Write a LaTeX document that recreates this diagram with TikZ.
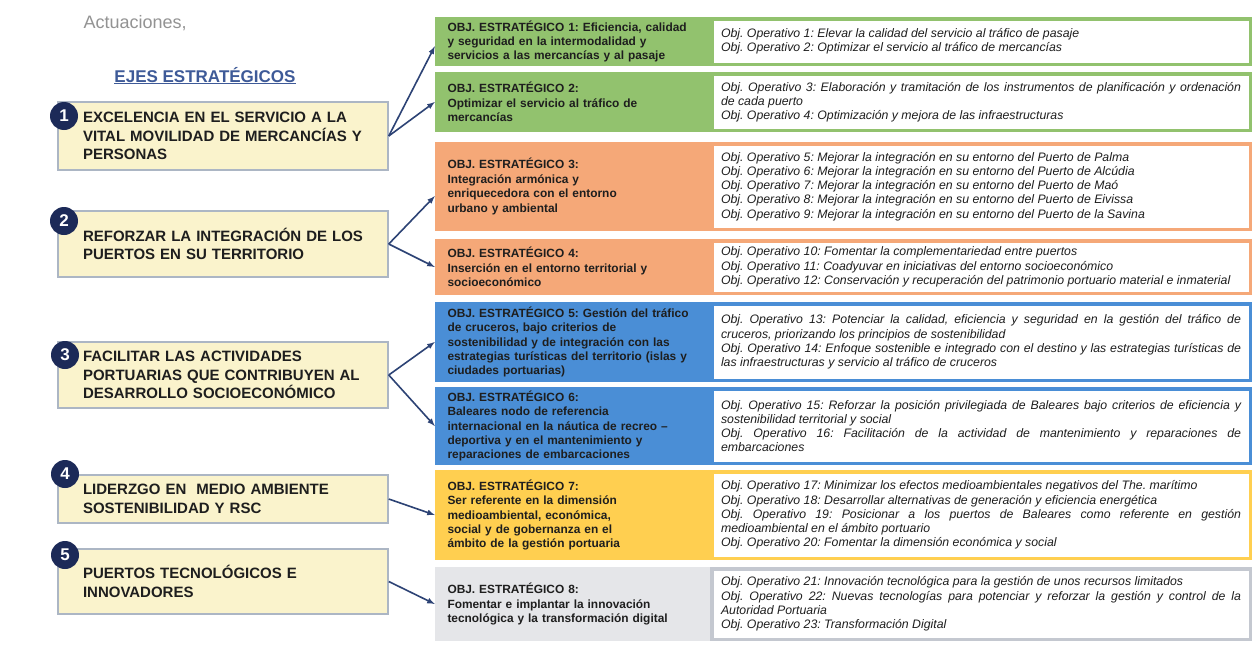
\documentclass[tikz,border=0pt]{standalone}
\usepackage{fontspec}
\setmainfont{Liberation Sans}
\usepackage{tikz}
\usetikzlibrary{arrows}
\definecolor{ejefill}{RGB}{250,243,204}
\definecolor{ejeline}{RGB}{172,182,196}
\definecolor{navy}{RGB}{28,42,88}
\definecolor{flecha}{RGB}{45,67,117}
\definecolor{verde}{RGB}{146,194,110}
\definecolor{naranja}{RGB}{245,168,120}
\definecolor{azul}{RGB}{74,142,214}
\definecolor{amarillo}{RGB}{255,207,80}
\definecolor{gris}{RGB}{229,230,233}
\definecolor{grisborde}{RGB}{196,200,208}
\definecolor{titulo}{RGB}{62,90,152}
\definecolor{texto}{RGB}{30,30,30}
\frenchspacing
\hyphenpenalty=10000

\begin{document}
\begin{tikzpicture}[x=1pt,y=-1pt]
%\draw[help lines] (0,0) grid (1257,645);
\tikzstyle{eje}=[rectangle,draw=ejeline,fill=ejefill,line width=1.5pt,minimum width=330pt,text width=280pt,inner xsep=25pt,align=left,text=texto,font=\fontsize{15}{18.5}\selectfont\bfseries]
\tikzstyle{num}=[circle,fill=navy,minimum size=28pt,inner sep=0pt,text=white,font=\fontsize{17}{17}\selectfont\bfseries]
\tikzstyle{obj}=[rectangle,minimum width=275pt,text width=250pt,inner xsep=12.5pt,align=left,text=texto,font=\fontsize{11.9}{14.4}\selectfont\bfseries]
\tikzstyle{op}=[rectangle,fill=white,line width=3.5pt,minimum width=538.5pt,text width=520pt,inner xsep=9.25pt,align=justify,text=texto,font=\fontsize{12.3}{14.2}\selectfont\itshape]
\tikzstyle{arr}=[->,>=latex,draw=flecha,line width=1.6pt]

\path[use as bounding box,fill=white] (0,0) rectangle (1257,645);

\node[anchor=base west,text=gray!85,font=\fontsize{18}{18}\selectfont] (act) at (80,28) {Actuaciones,};
\node[anchor=base,text=titulo,font=\fontsize{17}{17}\selectfont\bfseries] (ejes) at (205,82) {\underline{EJES ESTRATÉGICOS}};

\node[eje,minimum height=68pt] (e1) at (223,136) {EXCELENCIA EN EL SERVICIO A LA\\VITAL MOVILIDAD DE MERCANCÍAS Y\\PERSONAS};
\node[eje,minimum height=66pt] (e2) at (223,244) {REFORZAR LA INTEGRACIÓN DE LOS\\PUERTOS EN SU TERRITORIO};
\node[eje,minimum height=66pt] (e3) at (223,375) {FACILITAR LAS ACTIVIDADES\\PORTUARIAS QUE CONTRIBUYEN AL\\DESARROLLO SOCIOECONÓMICO};
\node[eje,minimum height=48pt] (e4) at (223,499) {LIDERZGO EN\ \ MEDIO AMBIENTE\\SOSTENIBILIDAD Y RSC};
\node[eje,minimum height=65pt] (e5) at (223,581.5) {PUERTOS TECNOLÓGICOS E\\INNOVADORES};

\node[num] (n1) at (64,116) {1};
\node[num] (n2) at (64,221) {2};
\node[num] (n3) at (65,355) {3};
\node[num] (n4) at (65,474) {4};
\node[num] (n5) at (65,555) {5};

\node[obj,fill=verde,minimum height=49pt] (o1) at (572.5,41.5) {OBJ. ESTRATÉGICO 1: Eficiencia, calidad\\y seguridad en la intermodalidad y\\servicios a las mercancías y al pasaje};
\node[obj,fill=verde,minimum height=60pt] (o2) at (572.5,102) {OBJ. ESTRATÉGICO 2:\\Optimizar el servicio al tráfico de\\mercancías};
\node[obj,fill=naranja,minimum height=89pt] (o3) at (572.5,186.5) {OBJ. ESTRATÉGICO 3:\\Integración armónica y\\enriquecedora con el entorno\\urbano y ambiental};
\node[obj,fill=naranja,minimum height=56pt] (o4) at (572.5,267) {OBJ. ESTRATÉGICO 4:\\Inserción en el entorno territorial y\\socioeconómico};
\node[obj,fill=azul,minimum height=80pt] (o5) at (572.5,342) {OBJ. ESTRATÉGICO 5: Gestión del tráfico\\de cruceros, bajo criterios de\\sostenibilidad y de integración con las\\estrategias turísticas del territorio (islas y\\ciudades portuarias)};
\node[obj,fill=azul,minimum height=78pt] (o6) at (572.5,426) {OBJ. ESTRATÉGICO 6:\\Baleares nodo de referencia\\internacional en la náutica de recreo --\\deportiva y en el mantenimiento y\\reparaciones de embarcaciones};
\node[obj,fill=amarillo,minimum height=90pt] (o7) at (572.5,515) {OBJ. ESTRATÉGICO 7:\\Ser referente en la dimensión\\medioambiental, económica,\\social y de gobernanza en el\\ámbito de la gestión portuaria};
\node[obj,fill=gris,minimum height=74pt] (o8) at (572.5,604) {OBJ. ESTRATÉGICO 8:\\Fomentar e implantar la innovación\\tecnológica y la transformación digital};

\node[op,draw=verde,minimum height=45.5pt] (p1) at (981,41.5) {Obj. Operativo 1: Elevar la calidad del servicio al tráfico de pasaje\par Obj. Operativo 2: Optimizar el servicio al tráfico de mercancías};
\node[op,draw=verde,minimum height=56.5pt] (p2) at (981,102) {Obj. Operativo 3: Elaboración y tramitación de los instrumentos de planificación y ordenación\linebreak de cada puerto\par Obj. Operativo 4: Optimización y mejora de las infraestructuras};
\node[op,draw=naranja,minimum height=85.5pt] (p3) at (981,186.5) {Obj. Operativo 5: Mejorar la integración en su entorno del Puerto de Palma\par Obj. Operativo 6: Mejorar la integración en su entorno del Puerto de Alcúdia\par Obj. Operativo 7: Mejorar la integración en su entorno del Puerto de Maó\par Obj. Operativo 8: Mejorar la integración en su entorno del Puerto de Eivissa\par Obj. Operativo 9: Mejorar la integración en su entorno del Puerto de la Savina};
\node[op,draw=naranja,minimum height=52.5pt] (p4) at (981,267) {Obj. Operativo 10: Fomentar la complementariedad entre puertos\par Obj. Operativo 11: Coadyuvar en iniciativas del entorno socioeconómico\par Obj. Operativo 12: Conservación y recuperación del patrimonio portuario material e inmaterial};
\node[op,draw=azul,minimum height=76.5pt] (p5) at (981,342) {Obj. Operativo 13: Potenciar la calidad, eficiencia y seguridad en la gestión del tráfico de\linebreak cruceros, priorizando los principios de sostenibilidad\par Obj. Operativo 14: Enfoque sostenible e integrado con el destino y las estrategias turísticas de\linebreak las infraestructuras y servicio al tráfico de cruceros};
\node[op,draw=azul,minimum height=74.5pt] (p6) at (981,426) {Obj. Operativo 15: Reforzar la posición privilegiada de Baleares bajo criterios de eficiencia y\linebreak sostenibilidad territorial y social\par Obj. Operativo 16: Facilitación de la actividad de mantenimiento y reparaciones de\linebreak embarcaciones};
\node[op,draw=amarillo,minimum height=86.5pt] (p7) at (981,515) {Obj. Operativo 17: Minimizar los efectos medioambientales negativos del The. marítimo\par Obj. Operativo 18: Desarrollar alternativas de generación y eficiencia energética\par Obj. Operativo 19: Posicionar a los puertos de Baleares como referente en gestión\linebreak medioambiental en el ámbito portuario\par Obj. Operativo 20: Fomentar la dimensión económica y social};
\node[op,draw=grisborde,minimum height=70.5pt] (p8) at (981,604) {Obj. Operativo 21: Innovación tecnológica para la gestión de unos recursos limitados\par Obj. Operativo 22: Nuevas tecnologías para potenciar y reforzar la gestión y control de la\linebreak Autoridad Portuaria\par Obj. Operativo 23: Transformación Digital};

\path (e1.east) edge[arr] (o1.182);
\path (e1.east) edge[arr] (o2.west);
\path (e2.east) edge[arr] (o3.184);
\path (e2.east) edge[arr] (o4.west);
\path (e3.east) edge[arr] (o5.west);
\path (e3.east) edge[arr] (o6.west);
\path (e4.east) edge[arr] (o7.west);
\path (e5.east) edge[arr] (o8.west);
\end{tikzpicture}
\end{document}
